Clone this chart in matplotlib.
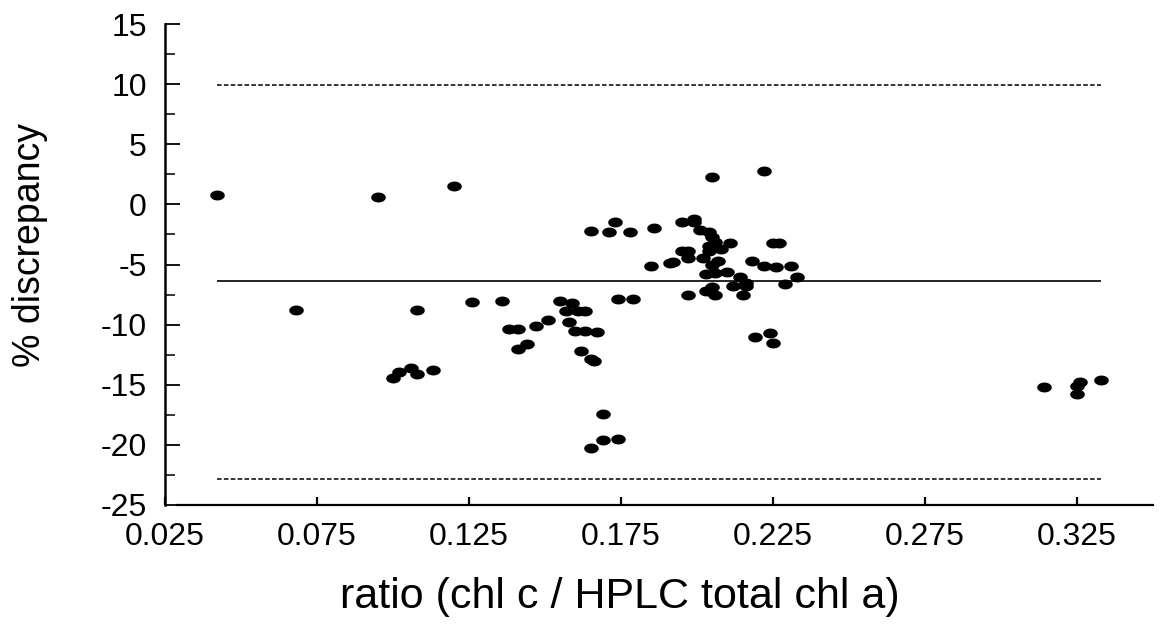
import numpy as np
import matplotlib
matplotlib.use('Agg')
import matplotlib.pyplot as plt
from matplotlib.ticker import MultipleLocator, FixedLocator

plt.rcParams['font.family'] = ['Liberation Sans', 'DejaVu Sans']
plt.rcParams['axes.unicode_minus'] = False

# ratio (chl c / HPLC total chl a) vs % discrepancy
ratio = [0.042, 0.068, 0.095, 0.120, 0.100, 0.102, 0.106, 0.108, 0.113, 0.108,
         0.126, 0.136, 0.138, 0.141, 0.147, 0.151, 0.141, 0.144, 0.155, 0.159,
         0.157, 0.161, 0.163, 0.158, 0.160, 0.163, 0.167, 0.162, 0.165, 0.166,
         0.169, 0.169, 0.174, 0.165, 0.165, 0.171, 0.173, 0.178, 0.186, 0.195,
         0.199, 0.199, 0.201, 0.204, 0.205, 0.206, 0.211, 0.208, 0.204, 0.204,
         0.195, 0.197, 0.197, 0.192, 0.191, 0.185, 0.202, 0.207, 0.205, 0.218,
         0.222, 0.226, 0.231, 0.233, 0.229, 0.225, 0.227, 0.203, 0.206, 0.210,
         0.214, 0.216, 0.216, 0.212, 0.215, 0.203, 0.205, 0.206, 0.197, 0.174,
         0.179, 0.219, 0.224, 0.225, 0.205, 0.222, 0.314, 0.326, 0.325, 0.325,
         0.333]
discrepancy = [0.8, -8.8, 0.6, 1.5, -14.4, -13.9, -13.6, -14.1, -13.8, -8.8,
               -8.1, -8.0, -10.4, -10.4, -10.1, -9.6, -12.0, -11.6, -8.0, -8.2,
               -8.9, -8.9, -8.9, -9.8, -10.5, -10.5, -10.6, -12.2, -12.9, -13.0,
               -17.4, -19.6, -19.5, -20.3, -2.2, -2.3, -1.5, -2.3, -2.0, -1.5,
               -1.2, -1.5, -2.1, -2.3, -2.7, -3.1, -3.2, -3.7, -3.5, -3.9,
               -3.9, -3.9, -4.5, -4.8, -4.9, -5.1, -4.5, -4.7, -5.0, -4.7,
               -5.1, -5.2, -5.1, -6.0, -6.6, -3.2, -3.2, -5.8, -5.7, -5.6,
               -6.0, -6.5, -6.8, -6.8, -7.5, -7.2, -6.9, -7.5, -7.5, -7.9,
               -7.9, -11.0, -10.7, -11.5, 2.3, 2.8, -15.2, -14.8, -15.1, -15.8,
               -14.6]

mean_disc = -6.4
upper_limit = 9.9
lower_limit = -22.8

x_ticks = [0.025, 0.075, 0.125, 0.175, 0.225, 0.275, 0.325]
x_labels = ['0.025', '0.075', '0.125', '0.175', '0.225', '0.275', '0.325']

fig = plt.figure(figsize=(11.6, 6.28), dpi=100)
ax = fig.add_axes([165 / 1160, 1 - 505 / 628, (1153 - 165) / 1160, (505 - 24) / 628])

# ellipse shaped dots
t = np.linspace(0, 2 * np.pi, 40)
ell = np.column_stack([np.cos(t), 0.68 * np.sin(t)])
ax.plot(ratio, discrepancy, linestyle='none', marker=ell, markersize=10.5,
        color='black', markeredgewidth=0)

x0, x1 = min(ratio), max(ratio)
ax.hlines(mean_disc, x0, x1, color='black', linewidth=1.2)
ax.hlines([upper_limit, lower_limit], x0, x1, color='black', linewidth=1.1,
          linestyles=(0, (3, 1.5)))

ax.set_xlim(0.025, 0.35)
ax.set_ylim(-25, 15)

ax.spines['top'].set_visible(False)
ax.spines['right'].set_visible(False)
ax.spines['left'].set_linewidth(1.8)
ax.spines['bottom'].set_linewidth(1.6)
ax.spines['bottom'].set_bounds(0.029, 0.35)

ax.yaxis.set_major_locator(MultipleLocator(5))
ax.yaxis.set_minor_locator(MultipleLocator(2.5))
ax.xaxis.set_major_locator(FixedLocator(x_ticks))
ax.set_xticklabels(x_labels)

ax.tick_params(axis='y', which='major', direction='in', length=11, width=1.3,
               labelsize=23, pad=13)
ax.tick_params(axis='y', which='minor', direction='in', length=7, width=1.1)
ax.tick_params(axis='x', which='major', direction='in', length=6, width=1.6,
               labelsize=23, pad=12)

ax.set_xlabel('ratio (chl c / HPLC total chl a)', fontsize=31)
ax.set_ylabel('% discrepancy', fontsize=27)
ax.xaxis.set_label_coords(0.46, -0.15)
ax.yaxis.set_label_coords(-0.118, 0.54)

fig.savefig('out.png', dpi=100)
